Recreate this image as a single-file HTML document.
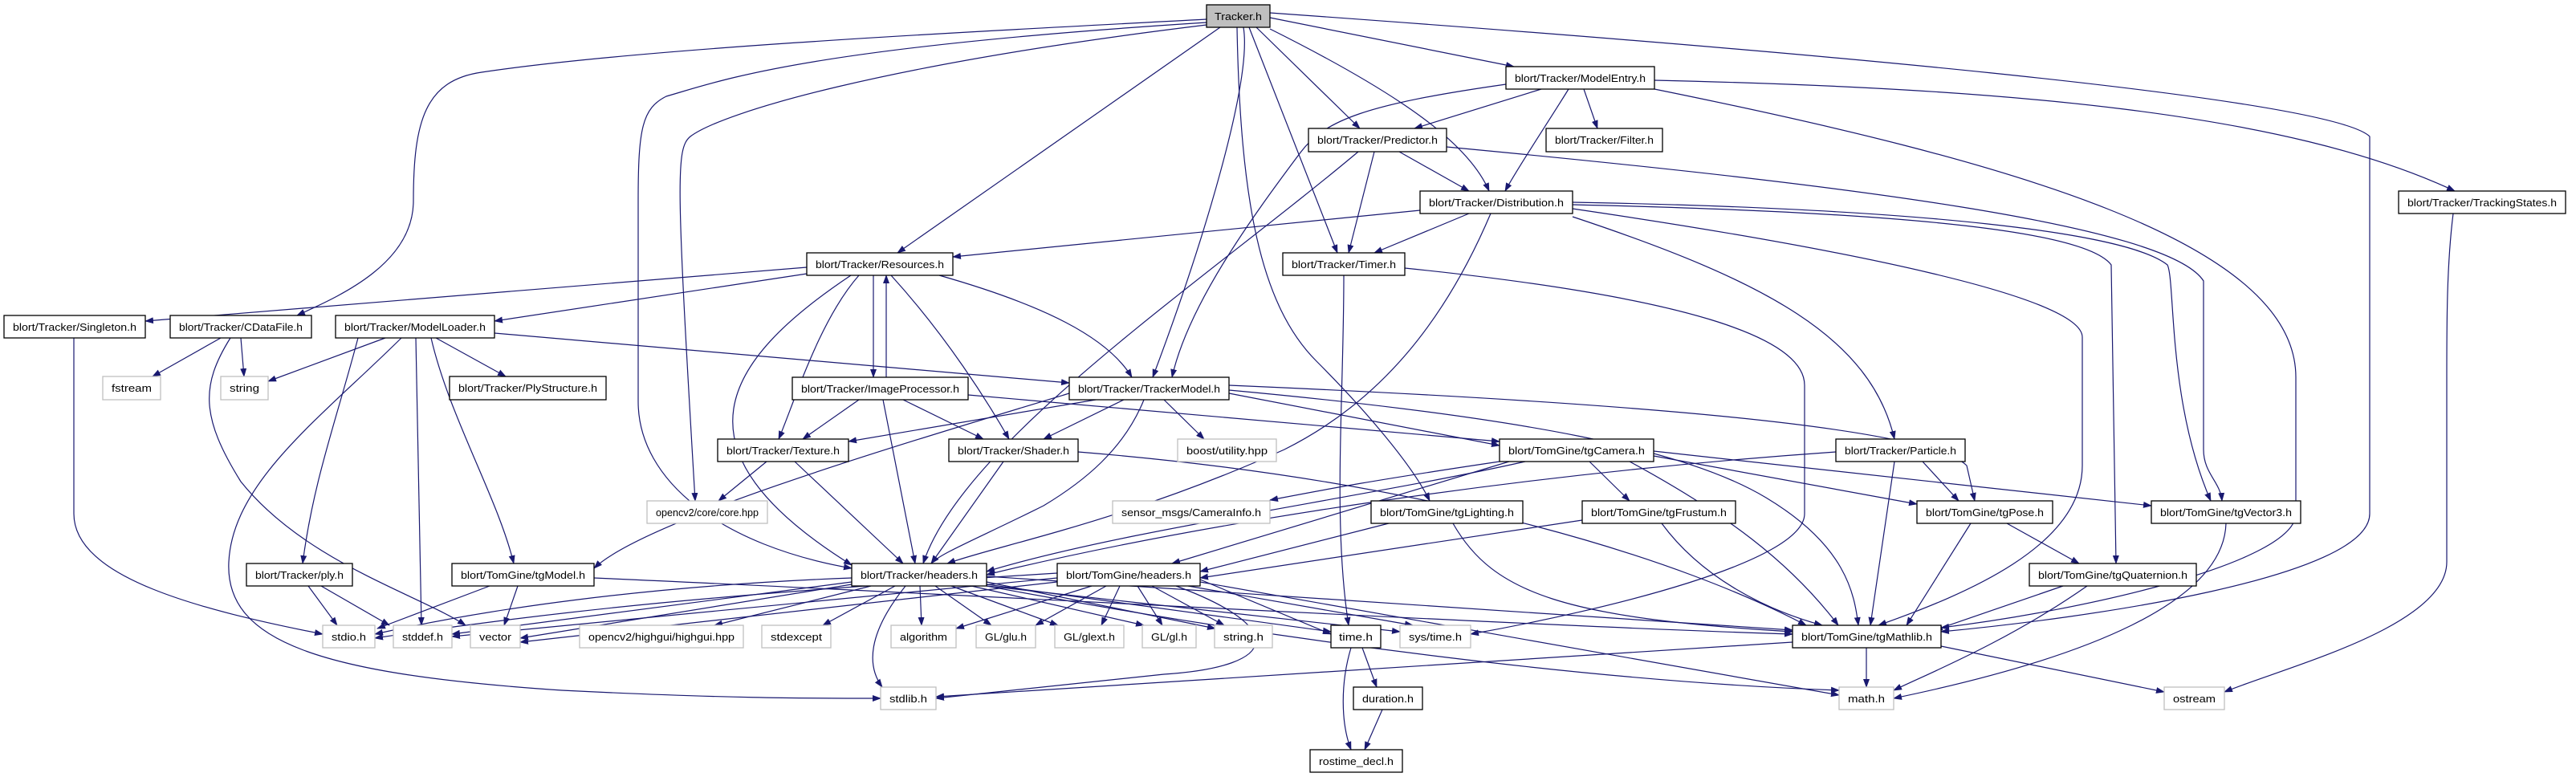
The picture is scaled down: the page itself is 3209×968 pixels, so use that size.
<!DOCTYPE html>
<html><head><meta charset="utf-8"><style>
html,body{margin:0;padding:0;background:#fff;}
svg{display:block;}
text{font-family:"Liberation Sans",sans-serif;font-size:13px;fill:#000;}
.e{fill:none;stroke:#191970;stroke-width:1.2;marker-end:url(#a);}
.n{fill:#fff;stroke:#000;stroke-width:1.3;}
.g{fill:#fff;stroke:#bfbfbf;stroke-width:1.3;}
</style></head><body>
<svg width="3209" height="968" viewBox="0 0 3209 968" xmlns="http://www.w3.org/2000/svg">
<defs><marker id="a" markerWidth="11" markerHeight="8" refX="10" refY="4" orient="auto" markerUnits="userSpaceOnUse"><path d="M0,0 L11,4 L0,8 z" fill="#191970"/></marker></defs>
<g>
<!-- Tracker.h -->
<path class="e" d="M1503,24 C1200,40 800,60 600,90 C530,100 515,150 515,250 C515,330 420,370 370,393"/>
<path class="e" d="M1503,28 C1000,60 900,100 830,120 C800,135 795,160 795,250 L795,500 C795,600 900,680 1061,708"/>
<path class="e" d="M1503,31 C1100,80 900,140 860,170 C842,185 842,220 866,624"/>
<path class="e" d="M1520,34 L1118,315"/>
<path class="e" d="M1549,34 C1560,100 1500,300 1436,470"/>
<path class="e" d="M1541,34 C1545,250 1570,380 1640,450 C1700,510 1760,580 1781,624"/>
<path class="e" d="M1556,34 L1666,315"/>
<path class="e" d="M1565,34 L1694,160"/>
<path class="e" d="M1582,36 C1750,120 1830,180 1855,238"/>
<path class="e" d="M1582,22 L1886,83"/>
<path class="e" d="M1582,16 C2200,60 2900,120 2952,170 L2952,640 C2952,720 2600,770 2418,787"/>
<!-- ModelEntry -->
<path class="e" d="M1920,111 L1762,160"/>
<path class="e" d="M1954,111 C1930,150 1890,210 1875,238"/>
<path class="e" d="M1973,111 L1990,160"/>
<path class="e" d="M2061,100 C2500,110 2850,140 3058,238"/>
<path class="e" d="M2061,111 C2500,200 2860,300 2860,470 L2860,640 C2860,700 2600,760 2418,782"/>
<path class="e" d="M1876,105 C1700,130 1650,150 1620,190 C1560,270 1480,380 1460,470"/>
<!-- Predictor -->
<path class="e" d="M1743,189 L1830,238"/>
<path class="e" d="M1712,189 L1680,315"/>
<path class="e" d="M1692,189 C1500,350 1200,550 1150,702"/>
<path class="e" d="M1802,183 C2300,230 2700,280 2745,350 L2745,560 C2745,590 2766,600 2768,624"/>
<!-- Distribution -->
<path class="e" d="M1830,266 L1712,315"/>
<path class="e" d="M1769,262 L1187,320"/>
<path class="e" d="M1857,266 C1800,400 1720,500 1600,560 C1400,650 1240,680 1180,702"/>
<path class="e" d="M1959,270 C2200,350 2330,420 2360,547"/>
<path class="e" d="M1959,252 C2400,260 2650,290 2700,330 C2710,350 2700,500 2754,624"/>
<path class="e" d="M1959,255 C2400,265 2600,290 2630,330 L2636,702"/>
<path class="e" d="M1959,260 C2300,310 2594,370 2594,420 L2594,580 C2594,680 2450,740 2340,779"/>
<!-- Timer -->
<path class="e" d="M1750,334 C2100,370 2248,420 2248,480 L2248,640 C2248,700 2000,760 1832,790"/>
<path class="e" d="M1674,343 C1674,500 1660,650 1680,779"/>
<!-- Resources -->
<path class="e" d="M1005,333 L181,400"/>
<path class="e" d="M1005,341 L616,400"/>
<path class="e" d="M1070,343 C1020,400 990,500 970,547"/>
<path class="e" d="M1088,343 L1088,470"/>
<path class="e" d="M1104,470 L1104,343"/>
<path class="e" d="M1110,343 C1180,420 1230,500 1257,547"/>
<path class="e" d="M1170,343 C1300,380 1380,420 1410,470"/>
<path class="e" d="M1060,343 C900,450 830,560 1061,704"/>
<!-- ModelLoader -->
<path class="e" d="M480,421 L334,475"/>
<path class="e" d="M543,421 L630,469"/>
<path class="e" d="M446,421 C420,520 390,600 377,702"/>
<path class="e" d="M537,421 C560,520 620,620 640,702"/>
<path class="e" d="M518,421 L525,779"/>
<path class="e" d="M500,421 C400,520 290,600 285,700 C280,800 400,840 700,860 C900,870 1000,870 1097,870"/>
<path class="e" d="M616,415 L1332,477"/>
<!-- CDataFile / Singleton -->
<path class="e" d="M275,421 L190,469"/>
<path class="e" d="M300,421 L304,469"/>
<path class="e" d="M287,421 C250,480 250,520 300,600 C380,700 520,740 580,779"/>
<path class="e" d="M92,421 L92,640 C92,720 250,760 402,790"/>
<!-- ply / tgModel -->
<path class="e" d="M384,730 L420,779"/>
<path class="e" d="M400,730 L485,779"/>
<path class="e" d="M610,730 L470,783"/>
<path class="e" d="M645,730 L628,779"/>
<path class="e" d="M740,720 C1200,740 1900,780 2233,790"/>
<!-- Tracker/headers -->
<path class="e" d="M1061,720 C800,730 600,760 467,790"/>
<path class="e" d="M1061,725 L563,790"/>
<path class="e" d="M1061,728 L648,795"/>
<path class="e" d="M1085,730 L890,779"/>
<path class="e" d="M1115,730 L1025,779"/>
<path class="e" d="M1146,730 L1148,779"/>
<path class="e" d="M1165,730 L1235,779"/>
<path class="e" d="M1185,730 L1318,779"/>
<path class="e" d="M1210,730 L1425,779"/>
<path class="e" d="M1229,725 L1514,783"/>
<path class="e" d="M1128,730 C1080,790 1080,830 1099,856"/>
<path class="e" d="M1229,728 L1658,787"/>
<path class="e" d="M1229,730 L1744,787"/>
<path class="e" d="M1229,730 C1600,800 2000,850 2291,860"/>
<path class="e" d="M1229,718 L2233,785"/>
<!-- TomGine/headers -->
<path class="e" d="M1360,730 L1191,783"/>
<path class="e" d="M1378,730 L1290,779"/>
<path class="e" d="M1395,730 L1372,779"/>
<path class="e" d="M1417,730 L1448,779"/>
<path class="e" d="M1435,730 L1525,779"/>
<path class="e" d="M1465,730 C1600,780 1600,830 1450,840 L1166,870"/>
<path class="e" d="M1495,725 L2291,866"/>
<path class="e" d="M1495,722 L1658,790"/>
<path class="e" d="M1480,730 L1760,779"/>
<path class="e" d="M1317,714 C900,740 700,760 467,795"/>
<path class="e" d="M1317,720 L563,793"/>
<path class="e" d="M1317,725 L648,800"/>
<!-- TrackerModel -->
<path class="e" d="M1365,498 L1057,550"/>
<path class="e" d="M1400,498 L1300,547"/>
<path class="e" d="M1450,498 L1500,547"/>
<path class="e" d="M1531,490 L1868,555"/>
<path class="e" d="M1531,480 C2000,500 2400,530 2450,580 L2460,624"/>
<path class="e" d="M1531,486 C1900,520 2100,560 2200,620 C2300,680 2310,740 2315,779"/>
<path class="e" d="M1425,498 C1400,560 1350,600 1300,630 C1220,670 1170,690 1160,702"/>
<path class="e" d="M1332,490 C1100,560 800,650 740,708"/>
<!-- ImageProcessor -->
<path class="e" d="M1070,498 L1000,547"/>
<path class="e" d="M1125,498 L1225,547"/>
<path class="e" d="M1100,498 L1140,702"/>
<path class="e" d="M1206,492 L1868,550"/>
<!-- Texture / Shader -->
<path class="e" d="M955,575 L895,624"/>
<path class="e" d="M990,575 L1125,702"/>
<path class="e" d="M1250,575 L1160,702"/>
<path class="e" d="M1343,563 C1800,600 2100,700 2250,779"/>
<!-- tgCamera -->
<path class="e" d="M1868,575 C1700,600 1650,610 1582,623"/>
<path class="e" d="M1980,575 L2030,624"/>
<path class="e" d="M2060,568 L2388,628"/>
<path class="e" d="M2060,562 L2680,630"/>
<path class="e" d="M2030,575 C2150,640 2230,700 2290,779"/>
<path class="e" d="M1880,575 L1460,702"/>
<path class="e" d="M1900,575 C1700,620 1400,660 1229,712"/>
<!-- Particle -->
<path class="e" d="M2395,575 L2440,624"/>
<path class="e" d="M2360,575 L2330,779"/>
<path class="e" d="M2287,563 C1900,590 1500,650 1229,716"/>
<!-- tgLighting / tgFrustum -->
<path class="e" d="M1730,652 L1495,712"/>
<path class="e" d="M1810,652 C1860,740 1950,770 2233,787"/>
<path class="e" d="M1971,648 L1495,720"/>
<path class="e" d="M2070,652 C2120,720 2200,760 2270,779"/>
<!-- tgPose / tgQuaternion / tgVector3 -->
<path class="e" d="M2500,652 L2590,702"/>
<path class="e" d="M2455,652 L2375,779"/>
<path class="e" d="M2570,730 L2410,785"/>
<path class="e" d="M2600,730 C2500,800 2400,840 2359,860"/>
<path class="e" d="M2773,652 C2770,750 2600,820 2359,870"/>
<!-- tgMathlib -->
<path class="e" d="M2325,807 L2325,856"/>
<path class="e" d="M2418,805 L2696,862"/>
<path class="e" d="M2233,800 L1166,868"/>
<!-- TrackingStates -->
<path class="e" d="M3056,266 C3048,330 3048,400 3048,470 L3048,700 C3048,780 2850,830 2771,862"/>
<!-- time.h / duration -->
<path class="e" d="M1697,807 L1715,856"/>
<path class="e" d="M1683,807 C1670,850 1670,900 1683,934"/>
<path class="e" d="M1722,884 L1700,934"/>
</g>
<g>
<rect x="1503" y="6" width="79" height="28" fill="#bfbfbf" stroke="#000" stroke-width="1.3"/><text x="1542.5" y="25" text-anchor="middle" textLength="59" lengthAdjust="spacingAndGlyphs">Tracker.h</text>
<rect class="n" x="5" y="393" width="176" height="28"/><text x="93" y="412" text-anchor="middle" textLength="154" lengthAdjust="spacingAndGlyphs">blort/Tracker/Singleton.h</text>
<rect class="n" x="212" y="393" width="176" height="28"/><text x="300" y="412" text-anchor="middle" textLength="154" lengthAdjust="spacingAndGlyphs">blort/Tracker/CDataFile.h</text>
<rect class="n" x="418" y="393" width="198" height="28"/><text x="517" y="412" text-anchor="middle" textLength="176" lengthAdjust="spacingAndGlyphs">blort/Tracker/ModelLoader.h</text>
<rect class="g" x="128" y="469" width="72" height="29"/><text x="164" y="488" text-anchor="middle" textLength="50" lengthAdjust="spacingAndGlyphs">fstream</text>
<rect class="g" x="275" y="469" width="59" height="29"/><text x="304.5" y="488" text-anchor="middle" textLength="37" lengthAdjust="spacingAndGlyphs">string</text>
<rect class="n" x="560" y="469" width="195" height="29"/><text x="657.5" y="488" text-anchor="middle" textLength="173" lengthAdjust="spacingAndGlyphs">blort/Tracker/PlyStructure.h</text>
<rect class="n" x="1005" y="315" width="182" height="28"/><text x="1096" y="334" text-anchor="middle" textLength="160" lengthAdjust="spacingAndGlyphs">blort/Tracker/Resources.h</text>
<rect class="n" x="987" y="470" width="219" height="28"/><text x="1096.5" y="489" text-anchor="middle" textLength="197" lengthAdjust="spacingAndGlyphs">blort/Tracker/ImageProcessor.h</text>
<rect class="n" x="1332" y="470" width="199" height="28"/><text x="1431.5" y="489" text-anchor="middle" textLength="177" lengthAdjust="spacingAndGlyphs">blort/Tracker/TrackerModel.h</text>
<rect class="n" x="1876" y="83" width="185" height="28"/><text x="1968.5" y="102" text-anchor="middle" textLength="163" lengthAdjust="spacingAndGlyphs">blort/Tracker/ModelEntry.h</text>
<rect class="n" x="1630" y="160" width="172" height="29"/><text x="1716" y="179" text-anchor="middle" textLength="150" lengthAdjust="spacingAndGlyphs">blort/Tracker/Predictor.h</text>
<rect class="n" x="1926" y="160" width="145" height="29"/><text x="1998.5" y="179" text-anchor="middle" textLength="123" lengthAdjust="spacingAndGlyphs">blort/Tracker/Filter.h</text>
<rect class="n" x="1769" y="238" width="190" height="28"/><text x="1864" y="257" text-anchor="middle" textLength="168" lengthAdjust="spacingAndGlyphs">blort/Tracker/Distribution.h</text>
<rect class="n" x="1598" y="315" width="152" height="28"/><text x="1674" y="334" text-anchor="middle" textLength="130" lengthAdjust="spacingAndGlyphs">blort/Tracker/Timer.h</text>
<rect class="n" x="2988" y="238" width="208" height="28"/><text x="3092" y="257" text-anchor="middle" textLength="186" lengthAdjust="spacingAndGlyphs">blort/Tracker/TrackingStates.h</text>
<rect class="n" x="307" y="702" width="132" height="28"/><text x="373" y="721" text-anchor="middle" textLength="110" lengthAdjust="spacingAndGlyphs">blort/Tracker/ply.h</text>
<rect class="n" x="563" y="702" width="177" height="28"/><text x="651.5" y="721" text-anchor="middle" textLength="155" lengthAdjust="spacingAndGlyphs">blort/TomGine/tgModel.h</text>
<rect class="g" x="402" y="779" width="65" height="28"/><text x="434.5" y="798" text-anchor="middle" textLength="43" lengthAdjust="spacingAndGlyphs">stdio.h</text>
<rect class="g" x="490" y="779" width="73" height="28"/><text x="526.5" y="798" text-anchor="middle" textLength="51" lengthAdjust="spacingAndGlyphs">stddef.h</text>
<rect class="g" x="586" y="779" width="62" height="28"/><text x="617" y="798" text-anchor="middle" textLength="40" lengthAdjust="spacingAndGlyphs">vector</text>
<rect class="g" x="722" y="779" width="204" height="28"/><text x="824" y="798" text-anchor="middle" textLength="182" lengthAdjust="spacingAndGlyphs">opencv2/highgui/highgui.hpp</text>
<rect class="n" x="894" y="547" width="163" height="28"/><text x="975.5" y="566" text-anchor="middle" textLength="141" lengthAdjust="spacingAndGlyphs">blort/Tracker/Texture.h</text>
<rect class="n" x="1182" y="547" width="161" height="28"/><text x="1262.5" y="566" text-anchor="middle" textLength="139" lengthAdjust="spacingAndGlyphs">blort/Tracker/Shader.h</text>
<rect class="g" x="1467" y="547" width="123" height="28"/><text x="1528.5" y="566" text-anchor="middle" textLength="101" lengthAdjust="spacingAndGlyphs">boost/utility.hpp</text>
<rect class="g" x="806" y="624" width="150" height="28"/><text x="881" y="643" text-anchor="middle" textLength="128" lengthAdjust="spacingAndGlyphs">opencv2/core/core.hpp</text>
<rect class="g" x="1386" y="624" width="196" height="28"/><text x="1484" y="643" text-anchor="middle" textLength="174" lengthAdjust="spacingAndGlyphs">sensor_msgs/CameraInfo.h</text>
<rect class="n" x="1061" y="702" width="168" height="28"/><text x="1145" y="721" text-anchor="middle" textLength="146" lengthAdjust="spacingAndGlyphs">blort/Tracker/headers.h</text>
<rect class="n" x="1317" y="702" width="178" height="28"/><text x="1406" y="721" text-anchor="middle" textLength="156" lengthAdjust="spacingAndGlyphs">blort/TomGine/headers.h</text>
<rect class="g" x="949" y="779" width="86" height="28"/><text x="992" y="798" text-anchor="middle" textLength="64" lengthAdjust="spacingAndGlyphs">stdexcept</text>
<rect class="g" x="1110" y="779" width="81" height="28"/><text x="1150.5" y="798" text-anchor="middle" textLength="59" lengthAdjust="spacingAndGlyphs">algorithm</text>
<rect class="g" x="1216" y="779" width="74" height="28"/><text x="1253" y="798" text-anchor="middle" textLength="52" lengthAdjust="spacingAndGlyphs">GL/glu.h</text>
<rect class="g" x="1314" y="779" width="86" height="28"/><text x="1357" y="798" text-anchor="middle" textLength="64" lengthAdjust="spacingAndGlyphs">GL/glext.h</text>
<rect class="g" x="1423" y="779" width="67" height="28"/><text x="1456.5" y="798" text-anchor="middle" textLength="45" lengthAdjust="spacingAndGlyphs">GL/gl.h</text>
<rect class="g" x="1513" y="779" width="72" height="28"/><text x="1549" y="798" text-anchor="middle" textLength="50" lengthAdjust="spacingAndGlyphs">string.h</text>
<rect class="g" x="1097" y="856" width="69" height="28"/><text x="1131.5" y="875" text-anchor="middle" textLength="47" lengthAdjust="spacingAndGlyphs">stdlib.h</text>
<rect class="n" x="1868" y="547" width="192" height="28"/><text x="1964" y="566" text-anchor="middle" textLength="170" lengthAdjust="spacingAndGlyphs">blort/TomGine/tgCamera.h</text>
<rect class="n" x="2287" y="547" width="161" height="28"/><text x="2367.5" y="566" text-anchor="middle" textLength="139" lengthAdjust="spacingAndGlyphs">blort/Tracker/Particle.h</text>
<rect class="n" x="1708" y="624" width="189" height="28"/><text x="1802.5" y="643" text-anchor="middle" textLength="167" lengthAdjust="spacingAndGlyphs">blort/TomGine/tgLighting.h</text>
<rect class="n" x="1971" y="624" width="191" height="28"/><text x="2066.5" y="643" text-anchor="middle" textLength="169" lengthAdjust="spacingAndGlyphs">blort/TomGine/tgFrustum.h</text>
<rect class="n" x="1658" y="779" width="62" height="28"/><text x="1689" y="798" text-anchor="middle" textLength="42" lengthAdjust="spacingAndGlyphs">time.h</text>
<rect class="g" x="1744" y="779" width="88" height="28"/><text x="1788" y="798" text-anchor="middle" textLength="66" lengthAdjust="spacingAndGlyphs">sys/time.h</text>
<rect class="n" x="2233" y="779" width="185" height="28"/><text x="2325.5" y="798" text-anchor="middle" textLength="163" lengthAdjust="spacingAndGlyphs">blort/TomGine/tgMathlib.h</text>
<rect class="n" x="1686" y="856" width="86" height="28"/><text x="1729" y="875" text-anchor="middle" textLength="64" lengthAdjust="spacingAndGlyphs">duration.h</text>
<rect class="n" x="1632" y="934" width="115" height="28"/><text x="1689.5" y="953" text-anchor="middle" textLength="93" lengthAdjust="spacingAndGlyphs">rostime_decl.h</text>
<rect class="g" x="2291" y="856" width="68" height="28"/><text x="2325" y="875" text-anchor="middle" textLength="46" lengthAdjust="spacingAndGlyphs">math.h</text>
<rect class="n" x="2388" y="624" width="169" height="28"/><text x="2472.5" y="643" text-anchor="middle" textLength="147" lengthAdjust="spacingAndGlyphs">blort/TomGine/tgPose.h</text>
<rect class="n" x="2680" y="624" width="186" height="28"/><text x="2773" y="643" text-anchor="middle" textLength="164" lengthAdjust="spacingAndGlyphs">blort/TomGine/tgVector3.h</text>
<rect class="n" x="2528" y="702" width="208" height="28"/><text x="2632" y="721" text-anchor="middle" textLength="186" lengthAdjust="spacingAndGlyphs">blort/TomGine/tgQuaternion.h</text>
<rect class="g" x="2696" y="856" width="75" height="28"/><text x="2733.5" y="875" text-anchor="middle" textLength="53" lengthAdjust="spacingAndGlyphs">ostream</text>
</g>
</svg>
</body></html>
